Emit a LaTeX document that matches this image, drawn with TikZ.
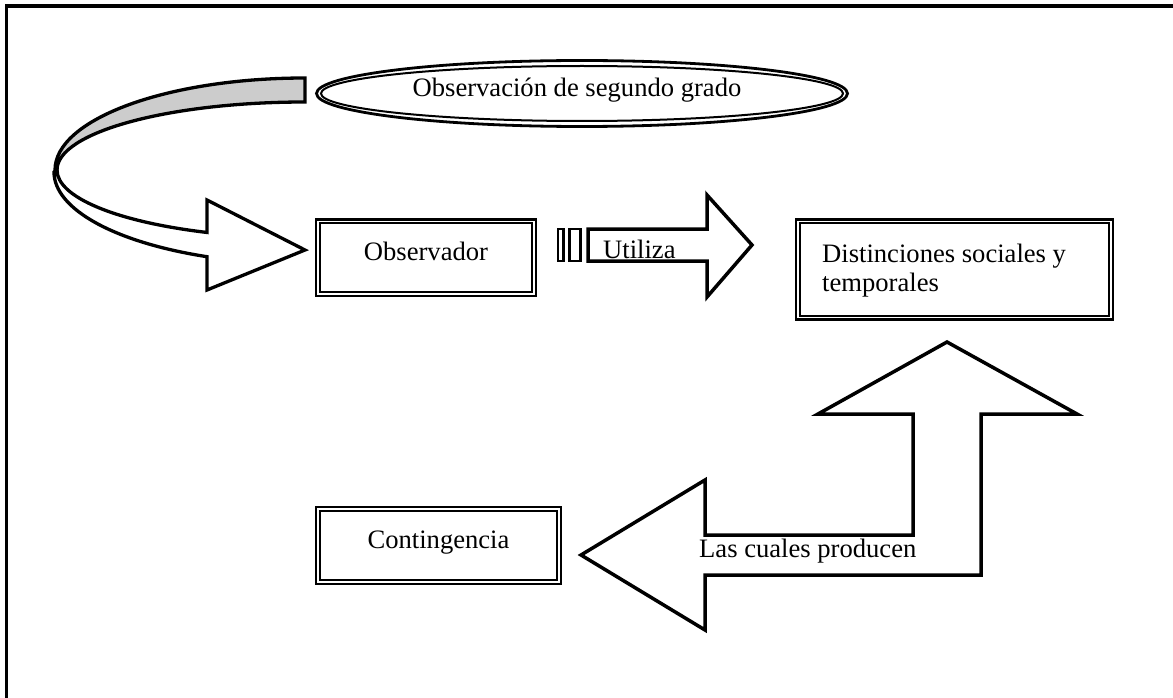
\documentclass[tikz,border=0pt]{standalone}
\usepackage{fontspec}
\setmainfont{Liberation Serif}
\usetikzlibrary{calc,shapes.geometric}
\begin{document}
\begin{tikzpicture}[x=1pt,y=-1pt,
  txt/.style={inner sep=0pt, font=\fontsize{26.6}{29}\selectfont},
  boxouter/.style={draw, line width=2.6pt, rectangle, inner sep=0pt},
  boxinner/.style={draw, line width=2pt},
  blockarrow/.style={draw, line width=3.5pt, fill=white, line join=miter},
  stripe/.style={draw, line width=2.8pt, fill=white},
  ribbon/.style={draw, line width=3.3pt, line join=miter},
]
\useasboundingbox (0,0) rectangle (1173,698);

% page frame (open to the right and bottom)
\draw[line width=3.5pt] (6.5,698) -- (6.5,6) -- (1173,6);

% curved arrow: shaded upper ribbon
\filldraw[ribbon, fill=gray!40]
  (305,78) arc[start angle=270, end angle=180, x radius=250, y radius=92]
  -- (57,170) arc[start angle=180, end angle=270, x radius=248, y radius=68]
  -- cycle;
% curved arrow: front ribbon and head
\filldraw[ribbon, fill=white]
  (57,170) arc[start angle=180, end angle=113.27, x radius=248, y radius=68]
  -- (207,200) -- (305,250) -- (207,290) -- (207,256.7)
  arc[start angle=112.98, end angle=180, x radius=251, y radius=92]
  -- cycle;

% ellipse with double border
\node[draw, line width=2.8pt, ellipse, minimum width=531pt, minimum height=66pt, inner sep=0pt] (seg) at (582,93.5) {};
\draw[line width=2pt] (seg.center) ellipse[x radius=261, y radius=27.5];
\node[txt, anchor=base] (segtxt) at (577,97) {Observación de segundo grado};

% boxes with double borders
\node[boxouter, minimum width=220pt, minimum height=76.5pt] (obs) at (426,257.75) {};
\draw[boxinner] ($(obs.north west)+(5,5)$) rectangle ($(obs.south east)+(-5,-5)$);
\node[txt, anchor=base] (obstxt) at (426,260) {Observador};

\node[boxouter, minimum width=317pt, minimum height=100pt] (dist) at (954.5,269.5) {};
\draw[boxinner] ($(dist.north west)+(5,5)$) rectangle ($(dist.south east)+(-5,-5)$);
\node[txt, anchor=base west] (disttxta) at (822,262) {Distinciones sociales y};
\node[txt, anchor=base west] (disttxtb) at (822,291) {temporales};

\node[boxouter, minimum width=245pt, minimum height=77pt] (cont) at (438.5,545.5) {};
\draw[boxinner] ($(cont.north west)+(5,5)$) rectangle ($(cont.south east)+(-5,-5)$);
\node[txt, anchor=base] (conttxt) at (438.5,548) {Contingencia};

% striped arrow "Utiliza"
\draw[stripe] (558,229) rectangle (563.8,261);
\draw[stripe] (569.8,229) rectangle (580.5,261);
\draw[blockarrow] (588,229) -- (707,229) -- (707,195) -- (752,245)
  -- (707,297) -- (707,261) -- (588,261) -- cycle;
\node[txt, anchor=base west] (utiltxt) at (603,258) {Utiliza};

% bent arrow "Las cuales producen"
\draw[blockarrow] (581,555) -- (705,480) -- (705,535) -- (913,535)
  -- (913,414) -- (818,414) -- (947,342) -- (1077,414) -- (981,414)
  -- (981,575) -- (705,575) -- (705,630) -- cycle;
\node[txt, anchor=base west] (prodtxt) at (699,557) {Las cuales producen};
\end{tikzpicture}
\end{document}
